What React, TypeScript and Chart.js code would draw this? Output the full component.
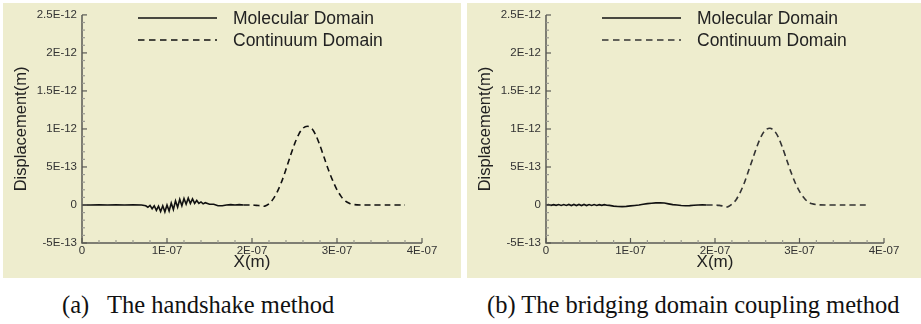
import React, { useEffect, useRef } from "react";
import { Chart, registerables } from "chart.js";

Chart.register(...registerables);

// ---- tick labels (x in nm, y in units of 1E-13 m) ----
const xTickValues = [0, 100, 200, 300, 400];
const xTickLabels = ["0", "1E-07", "2E-07", "3E-07", "4E-07"];
const yTickValues = [-5, 0, 5, 10, 15, 20, 25];
const yTickLabels = ["-5E-13", "0", "5E-13", "1E-12", "1.5E-12", "2E-12", "2.5E-12"];
const seriesNames = ["Molecular Domain", "Continuum Domain"];
const xTitle = "X(m)";
const yTitle = "Displacement(m)";
const captions = ["(a)   The handshake method", "(b) The bridging domain coupling method"];

// ---- (a) handshake method ----
const molAX = [0, 10, 20, 30, 40, 50, 60, 70, 75, 77.5, 80, 82.5, 85, 87.5, 90, 92.5, 95, 97.5, 100, 102.5, 105, 107.5, 110, 112.5, 115, 117.5, 120, 122.5, 125, 127.5, 130, 132.5, 135, 137.5, 140, 142.5, 145, 150, 155, 160, 165, 170, 175, 180, 185, 190];
const molAY = [0, 0, 0.03, 0, 0.02, 0, 0.03, 0, -0.1, -0.3, -0.05, -0.5, -0.1, -0.7, -0.15, -0.85, -0.1, -0.9, 0, -0.8, 0.25, -0.6, 0.55, -0.3, 0.75, -0.1, 0.85, 0.1, 0.9, 0.2, 0.8, 0.2, 0.6, 0.2, 0.4, 0.15, 0.3, 0.1, 0.1, -0.1, -0.1, 0, 0.05, 0, 0.05, 0];
const conAX = [190, 200, 205, 210, 215, 220, 225, 230, 235, 240, 245, 250, 255, 260, 265, 270, 275, 280, 285, 290, 295, 300, 305, 310, 315, 320, 330, 340, 360, 380];
const conAY = [0, 0, -0.05, -0.1, -0.15, 0.15, 0.8, 1.8, 3.1, 4.7, 6.4, 8.0, 9.3, 10.1, 10.35, 10.1, 9.2, 7.8, 6.2, 4.6, 3.2, 2.0, 1.1, 0.5, 0.2, 0.05, 0, 0, 0, 0];

// ---- (b) bridging domain coupling method ----
const molBX = [0, 3, 6, 9, 12, 15, 18, 21, 24, 27, 30, 33, 36, 39, 42, 45, 48, 51, 54, 57, 60, 63, 66, 69, 72, 75, 80, 85, 90, 95, 100, 105, 110, 115, 120, 125, 130, 135, 140, 145, 150, 155, 160, 165, 170, 175, 180, 185, 190];
const molBY = [0, 0.05, -0.05, 0.05, -0.05, 0.06, -0.06, 0.06, -0.06, 0.07, -0.07, 0.07, -0.07, 0.07, -0.07, 0.07, -0.07, 0.06, -0.06, 0.06, -0.06, 0.05, -0.05, 0.04, -0.04, -0.05, -0.15, -0.2, -0.22, -0.18, -0.12, -0.06, 0, 0.1, 0.18, 0.24, 0.28, 0.3, 0.26, 0.15, 0.05, 0, -0.06, -0.1, -0.08, -0.04, 0, 0.04, 0];
const conBX = [190, 200, 205, 210, 215, 220, 225, 230, 235, 240, 245, 250, 255, 260, 265, 270, 275, 280, 285, 290, 295, 300, 305, 310, 315, 320, 330, 350, 380];
const conBY = [0, 0, -0.05, -0.15, -0.25, 0.1, 0.7, 1.7, 3.0, 4.6, 6.2, 7.8, 9.1, 9.9, 10.1, 9.8, 8.9, 7.5, 5.9, 4.3, 2.9, 1.8, 1.0, 0.4, 0.15, 0.05, 0, 0, 0];

const SANS = '"Liberation Sans", Arial, Helvetica, sans-serif';
const SERIF = '"Liberation Serif", "Times New Roman", serif';
const BG = "#EEEDCE";

const tecPlugin = {
  id: "tecAxesLegend",
  afterDraw(chart: any) {
    const { ctx, chartArea: ca, scales } = chart;
    const xs = scales.x;
    const ys = scales.y;
    const opts = chart.options.plugins.tecAxesLegend || {};
    ctx.save();
    // axes
    ctx.strokeStyle = "#5a5a55";
    ctx.lineWidth = 1.5;
    ctx.beginPath();
    ctx.moveTo(ca.left, ca.top);
    ctx.lineTo(ca.left, ca.bottom);
    ctx.lineTo(ca.right, ca.bottom);
    ctx.stroke();
    // ticks
    ctx.lineWidth = 1.2;
    const yMin = yTickValues[0];
    const yMax = yTickValues[yTickValues.length - 1];
    for (let v = yMin; v <= yMax; v += 1) {
      const major = yTickValues.indexOf(v) >= 0;
      const py = ys.getPixelForValue(v);
      ctx.strokeStyle = major ? "#5a5a55" : "#9a9a90";
      ctx.beginPath();
      ctx.moveTo(ca.left, py);
      ctx.lineTo(ca.left + (major ? 5 : 3), py);
      ctx.stroke();
    }
    const xMax = xTickValues[xTickValues.length - 1];
    for (let v = 0; v <= xMax; v += 20) {
      const major = xTickValues.indexOf(v) >= 0;
      const px = xs.getPixelForValue(v);
      ctx.strokeStyle = major ? "#5a5a55" : "#9a9a90";
      ctx.beginPath();
      ctx.moveTo(px, ca.bottom);
      ctx.lineTo(px, ca.bottom - (major ? 5 : 3));
      ctx.stroke();
    }
    // legend
    const lx0 = ca.left + 56;
    const lx1 = ca.left + 135;
    const tx = ca.left + 151;
    const y1 = ca.top + 3;
    const y2 = ca.top + 25;
    ctx.lineWidth = 1.5;
    ctx.strokeStyle = "#111";
    ctx.setLineDash([]);
    ctx.beginPath();
    ctx.moveTo(lx0, y1);
    ctx.lineTo(lx1, y1);
    ctx.stroke();
    ctx.strokeStyle = opts.dashColor || "#111";
    ctx.setLineDash([6.5, 4.5]);
    ctx.beginPath();
    ctx.moveTo(lx0, y2);
    ctx.lineTo(lx1, y2);
    ctx.stroke();
    ctx.setLineDash([]);
    ctx.fillStyle = "#222";
    ctx.font = `17.5px ${SANS}`;
    ctx.textBaseline = "middle";
    ctx.textAlign = "left";
    ctx.fillText(seriesNames[0], tx, y1 + 1);
    ctx.fillText(seriesNames[1], tx, y2 + 1);
    ctx.restore();
  },
};

type PanelProps = {
  left: number;
  width: number;
  padTop: number;
  padRight: number;
  molX: number[];
  molY: number[];
  conX: number[];
  conY: number[];
  dashColor: string;
};

function Panel(p: PanelProps) {
  const ref = useRef<HTMLCanvasElement>(null);
  useEffect(() => {
    if (!ref.current) return;
    const chart = new Chart(ref.current, {
      type: "line",
      data: {
        datasets: [
          {
            label: seriesNames[0],
            data: p.molX.map((x, i) => ({ x, y: p.molY[i] })),
            borderColor: "#111",
            borderWidth: 1.6,
            pointRadius: 0,
            tension: 0,
            fill: false,
          },
          {
            label: seriesNames[1],
            data: p.conX.map((x, i) => ({ x, y: p.conY[i] })),
            borderColor: p.dashColor,
            borderWidth: 1.6,
            borderDash: [6, 4],
            pointRadius: 0,
            tension: 0.3,
            fill: false,
          },
        ],
      },
      options: {
        animation: false,
        responsive: false,
        events: [],
        layout: { padding: { left: 0, right: p.padRight, top: p.padTop, bottom: 0 } },
        plugins: {
          legend: { display: false },
          tooltip: { enabled: false },
          tecAxesLegend: { dashColor: p.dashColor },
        } as any,
        scales: {
          x: {
            type: "linear",
            min: 0,
            max: 400,
            afterFit: (s: any) => {
              s.height = 35;
            },
            afterBuildTicks: (s: any) => {
              s.ticks = xTickValues.map((v) => ({ value: v }));
            },
            grid: { display: true, drawOnChartArea: false, drawTicks: false },
            border: { display: false },
            ticks: {
              autoSkip: false,
              maxRotation: 0,
              padding: 1,
              color: "#333",
              font: { family: SANS, size: 11.5 },
              callback: (v: any) => {
                const i = xTickValues.indexOf(Number(v));
                return i >= 0 ? xTickLabels[i] : "";
              },
            },
            title: {
              display: true,
              text: xTitle,
              color: "#222",
              font: { family: SANS, size: 17, lineHeight: 1.2 },
              padding: { top: 0, bottom: 5 },
            },
          },
          y: {
            type: "linear",
            min: -5,
            max: 25,
            afterFit: (s: any) => {
              s.width = 79;
            },
            afterBuildTicks: (s: any) => {
              s.ticks = yTickValues.map((v) => ({ value: v }));
            },
            grid: { display: true, drawOnChartArea: false, drawTicks: false },
            border: { display: false },
            ticks: {
              autoSkip: false,
              padding: 5,
              color: "#333",
              font: { family: SANS, size: 11.5 },
              callback: (v: any) => {
                const i = yTickValues.indexOf(Number(v));
                return i >= 0 ? yTickLabels[i] : "";
              },
            },
            title: {
              display: true,
              text: yTitle,
              color: "#222",
              font: { family: SANS, size: 16.5, lineHeight: 1.2 },
              padding: { top: 9, bottom: 0 },
            },
          },
        },
      } as any,
      plugins: [tecPlugin],
    });
    return () => chart.destroy();
  }, []);
  return (
    <div
      style={{
        position: "absolute",
        left: p.left,
        top: 3,
        width: p.width,
        height: 275,
        background: BG,
      }}
    >
      <canvas ref={ref} width={p.width} height={275} style={{ width: p.width, height: 275, display: "block" }} />
    </div>
  );
}

const captionStyle = (left: number): React.CSSProperties => ({
  position: "absolute",
  left,
  top: 291,
  whiteSpace: "pre",
  fontFamily: SERIF,
  fontSize: 24.5,
  lineHeight: "28px",
  color: "#111",
});

export default function App() {
  return (
    <div
      style={{
        position: "fixed",
        left: 0,
        top: 0,
        width: 921,
        height: 324,
        background: "#fff",
        overflow: "hidden",
      }}
    >
      <Panel left={3} width={458} padTop={11} padRight={39} molX={molAX} molY={molAY} conX={conAX} conY={conAY} dashColor="#111" />
      <Panel left={467} width={454} padTop={12} padRight={37} molX={molBX} molY={molBY} conX={conBX} conY={conBY} dashColor="#333" />
      <div style={captionStyle(62)}>{captions[0]}</div>
      <div style={captionStyle(487)}>{captions[1]}</div>
    </div>
  );
}
